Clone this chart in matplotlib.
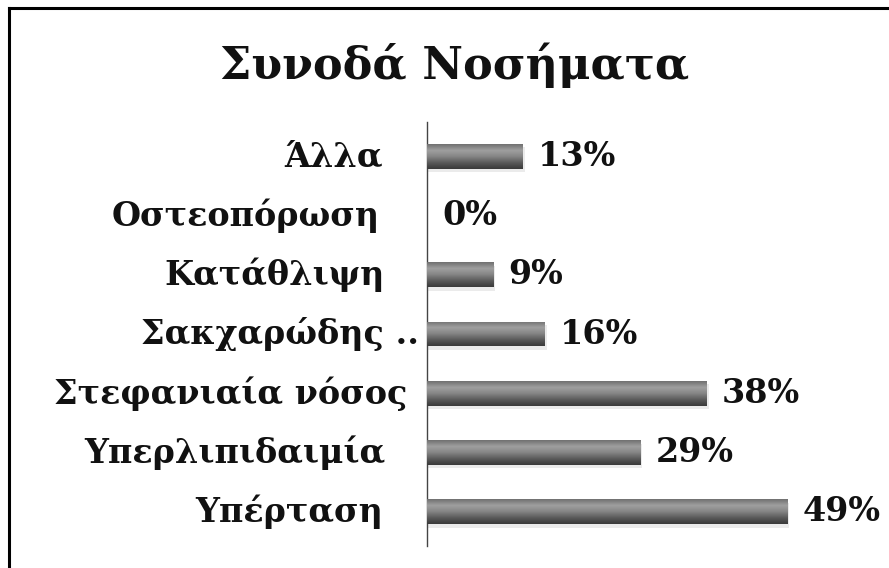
import matplotlib
matplotlib.use("Agg")
import matplotlib.pyplot as plt
from matplotlib.colors import LinearSegmentedColormap
from matplotlib.lines import Line2D
from matplotlib.transforms import blended_transform_factory, ScaledTranslation
import numpy as np

title = "Συνοδά Νοσήματα"
categories = ["Άλλα", "Οστεοπόρωση", "Κατάθλιψη", "Σακχαρώδης ..",
              "Στεφανιαία νόσος", "Υπερλιπιδαιμία", "Υπέρταση"]
values = [13, 0, 9, 16, 38, 29, 49]

# extra rightward shift (pixels) for the longer category labels
label_shift = [-2, -5, 0, 34, 22, 0, -2]

FONT = ["DejaVu Serif"]

fig = plt.figure(figsize=(8.89, 5.68), dpi=100)
fig.patch.set_facecolor("white")
ax = fig.add_axes([427 / 889, 1 - 546 / 568, (889 - 427) / 889, (546 - 122) / 568])

y = np.arange(len(categories))
bars = ax.barh(y, values, height=0.42, color="#5c5c5c", edgecolor="none", zorder=2)

# glossy vertical gradient on each bar
cmap = LinearSegmentedColormap.from_list(
    "gloss", ["#707070", "#a0a0a0", "#858585", "#5a5a5a", "#3a3a3a"])
grad = np.linspace(0, 1, 64).reshape(-1, 1)
for bar in bars:
    w = bar.get_width()
    if w <= 0:
        continue
    x0, y0, h = bar.get_x(), bar.get_y(), bar.get_height()
    # soft shadow under the bar
    ax.barh(y0 + h / 2 + 0.06, w + 0.3, height=h, left=x0, color="#000000",
            alpha=0.08, edgecolor="none", zorder=1)
    im = ax.imshow(grad, extent=[x0, x0 + w, y0, y0 + h], origin="lower",
                   aspect="auto", cmap=cmap, zorder=3, interpolation="bicubic")
    im.set_clip_path(bar)

ax.set_xlim(0, (889 - 427) / 7.35)
ax.set_ylim(len(categories) - 0.42, -0.58)

for s in ["top", "right", "bottom"]:
    ax.spines[s].set_visible(False)
ax.spines["left"].set_color("#444444")
ax.spines["left"].set_linewidth(1.0)
ax.set_xticks([])
ax.set_yticks([])

# category labels, right-aligned left of the axis
trans = blended_transform_factory(ax.transAxes, ax.transData)
for yi, cat, sh in zip(y, categories, label_shift):
    off = ScaledTranslation((sh - 42) / 100, 0, fig.dpi_scale_trans)
    ax.text(0, yi, cat, transform=trans + off, ha="right", va="center",
            fontsize=24, fontweight="bold", family=FONT, color="#111111")

# value labels
for yi, v in zip(y, values):
    ax.annotate(f"{v}%", (v, yi), xytext=(11, 0), textcoords="offset points",
                ha="left", va="center", fontsize=24, fontweight="bold",
                family=FONT, color="#111111", zorder=4)

fig.text(455 / 889, 1 - 65 / 568, title, ha="center", va="center",
         fontsize=32, fontweight="bold", family=FONT, color="#111111")

# outer frame (left and top edges)
fig.add_artist(Line2D([9 / 889, 9 / 889], [0, 1 - 8 / 568], color="black",
                      linewidth=2.2, transform=fig.transFigure))
fig.add_artist(Line2D([9 / 889, 1], [1 - 8 / 568, 1 - 8 / 568], color="black",
                      linewidth=2.2, transform=fig.transFigure))

fig.savefig("out.png", dpi=100, facecolor="white")
